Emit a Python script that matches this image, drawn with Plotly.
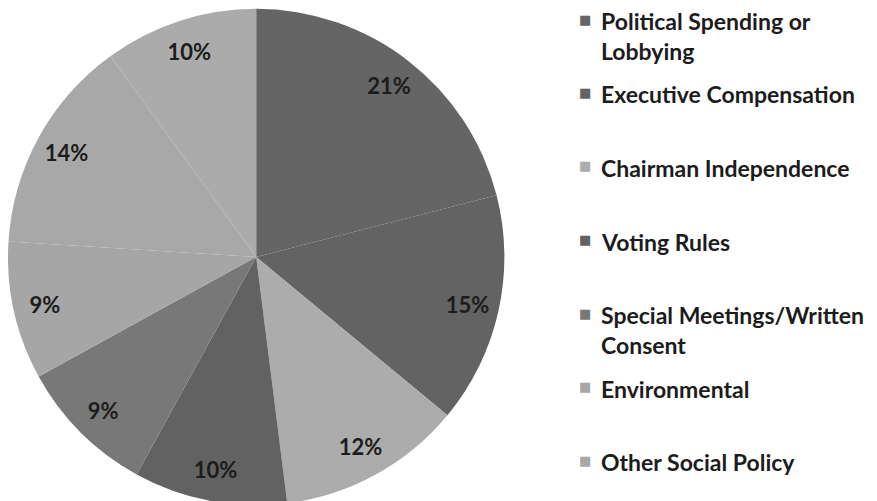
import textwrap
import plotly.graph_objects as go

# ---- data ----
categories = [
    "Political Spending or Lobbying",
    "Executive Compensation",
    "Chairman Independence",
    "Voting Rules",
    "Special Meetings/Written Consent",
    "Environmental",
    "Other Social Policy",
    "Other",  # 8th slice; its legend entry is cut off in the reference
]
shares = [21, 15, 12, 10, 9, 9, 14, 10]
legend_count = 7  # legend entries visible in the reference

# ---- styles ----
slice_colors = ["#656565", "#636363", "#acacac", "#626262",
                "#787878", "#a6a6a6", "#a8a8a8", "#ababab"]
text_color = "#1c1c1c"
font_family = "Lato, 'Open Sans', sans-serif"

W, H = 877, 501
OFF = 8  # page offset of the figure (body margin)
dom = dict(x=[0, 0.566], y=[0, 1])

fig = go.Figure()
# main pie
fig.add_trace(go.Pie(
    labels=categories, values=shares, sort=False, direction="clockwise",
    rotation=0, domain=dom,
    marker=dict(colors=slice_colors, line=dict(width=0)),
    textinfo="none", hoverinfo="label+percent", showlegend=False,
))
# transparent ring used only to place the percentage labels near the rim
fig.add_trace(go.Pie(
    labels=categories, values=shares, sort=False, direction="clockwise",
    rotation=0, domain=dom, hole=0.745,
    marker=dict(colors=["rgba(0,0,0,0)"] * len(shares), line=dict(width=0)),
    texttemplate="%{value}%", textposition="inside",
    insidetextorientation="horizontal",
    textfont=dict(family=font_family, size=22, color=text_color, weight="bold"),
    hoverinfo="skip", showlegend=False,
))

# ---- legend built from the category list ----
plot_h = H - 3
top_px, step_px, line_px = 21, 73.5, 30
for i in range(legend_count):
    y_page = top_px + step_px * i
    fig.add_annotation(
        x=(585 - OFF) / W, y=1 - (y_page - 2 - OFF) / plot_h,
        xref="paper", yref="paper", xanchor="center", yanchor="middle",
        showarrow=False, text="■",
        font=dict(family="DejaVu Sans", size=13, color=slice_colors[i]),
    )
    for j, line in enumerate(textwrap.wrap(categories[i], width=24)):
        fig.add_annotation(
            x=(600 - OFF) / W, y=1 - (y_page + j * line_px - OFF) / plot_h,
            xref="paper", yref="paper", xanchor="left", yanchor="middle",
            showarrow=False, text=line, borderpad=0,
            font=dict(family=font_family, size=23, color=text_color,
                      weight="bold"),
        )

fig.update_layout(
    width=W, height=H, margin=dict(l=0, r=0, t=0, b=3),
    paper_bgcolor="white", plot_bgcolor="white",
)
fig.write_html("out.html")
